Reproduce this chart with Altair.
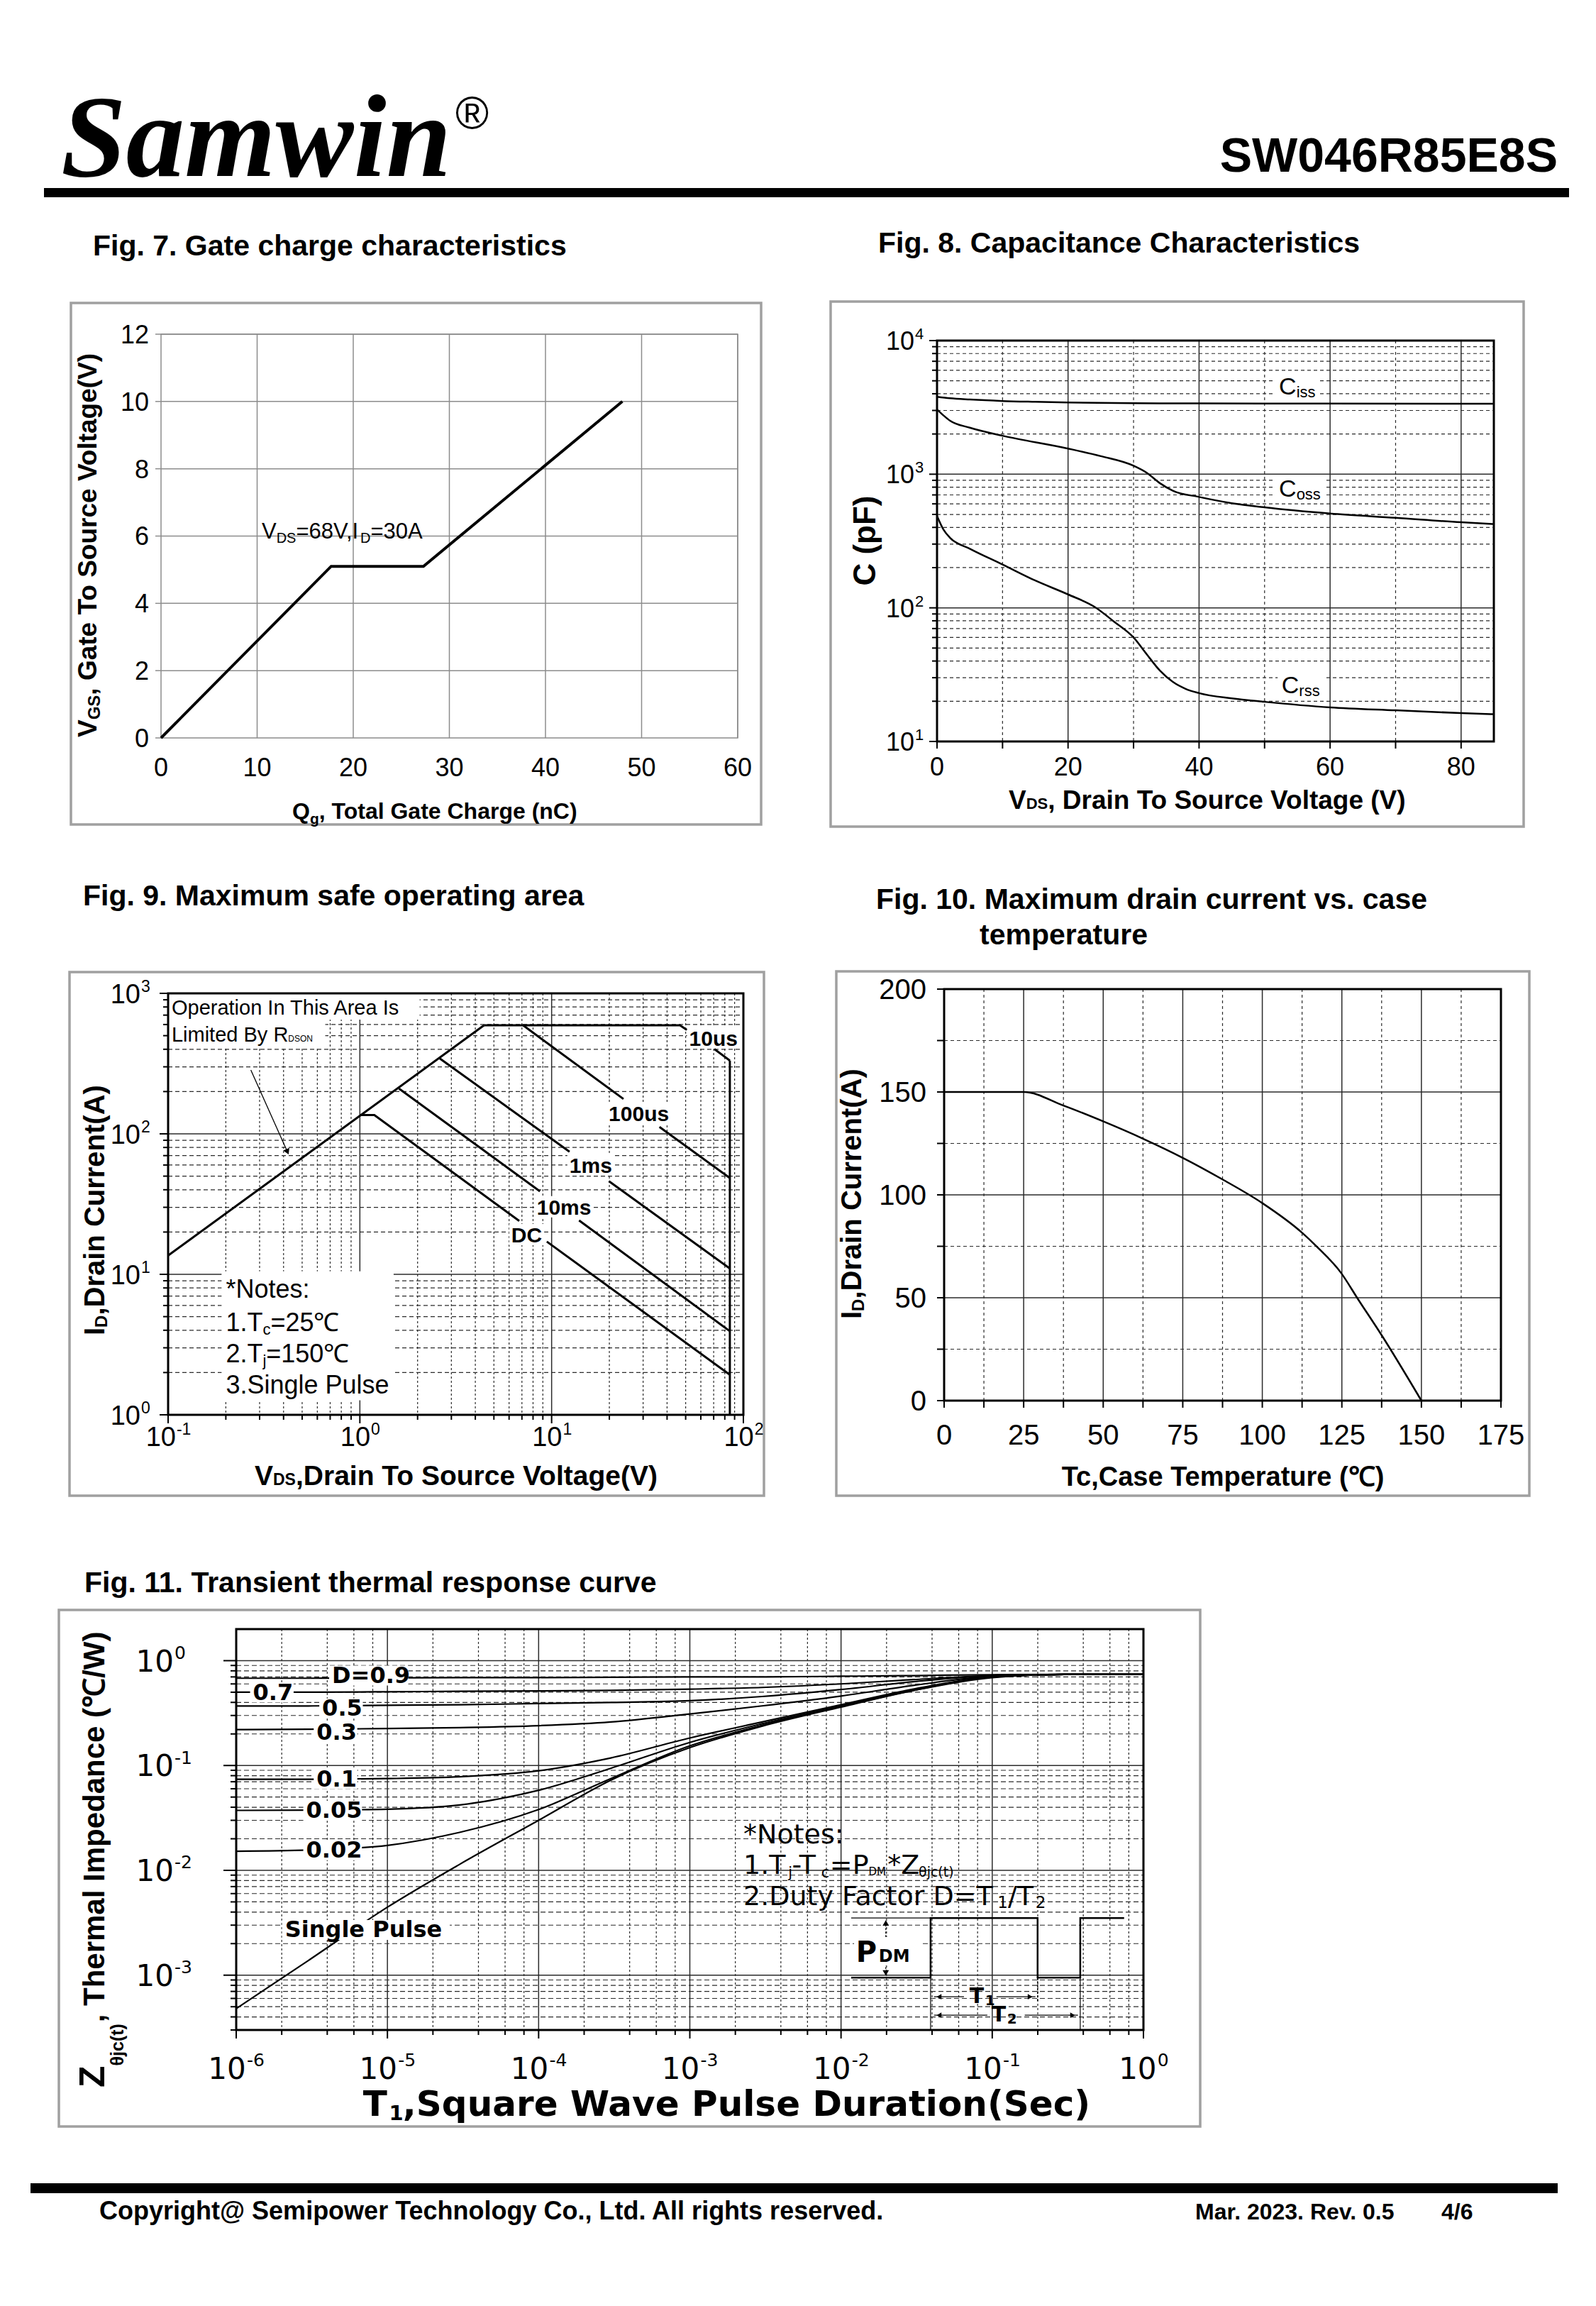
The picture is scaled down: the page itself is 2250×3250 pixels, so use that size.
import altair as alt
import pandas as pd

SANS = "Liberation Sans, Arial, Helvetica, sans-serif"
SERIF = "Liberation Serif, Times New Roman, serif"
WIDE = "DejaVu Sans, Verdana, sans-serif"
FRAME_C = "#a0a0a0"
GRID_C = "#2b2b2b"

# ===================== chart values =====================
# Fig. 7 gate charge
qg_nc = [0.0, 17.7, 27.3, 48.0]
vgs_v = [0.0, 5.1, 5.1, 10.0]
f7_x_ticks = [0, 10, 20, 30, 40, 50, 60]
f7_y_ticks = [0, 2, 4, 6, 8, 10, 12]

# Fig. 8 capacitance
ciss_vds = [0, 2, 5, 10, 15, 20, 30, 40, 60, 85]
ciss_pf = [3800, 3700, 3620, 3530, 3480, 3440, 3400, 3385, 3375, 3370]
coss_vds = [0, 1, 2, 5, 10, 20, 25, 30, 32, 34, 36, 40, 45, 50, 60, 70, 80, 85]
coss_pf = [3050, 2750, 2510, 2230, 1940, 1556, 1365, 1156, 1025, 858, 752, 676, 607, 565, 508, 472, 437, 424]
crss_vds = [0, 1, 2, 5, 10, 15, 20, 24, 27, 30, 32, 34, 36, 38, 40, 45, 50, 60, 70, 80, 85]
crss_pf = [487, 384, 334, 277, 211, 160, 126, 102, 79, 60, 45, 34, 27.9, 24.7, 23, 21, 19.8, 18, 17.1, 16.3, 16.0]
cap_names = ["iss", "oss", "rss"]
cap_label_vds = [52.2, 52.2, 52.6]
cap_label_pf = [3926, 676, 22.9]
f8_x_ticks = [0, 20, 40, 60, 80]
f8_y_ticks = [10, 100, 1000, 10000]
f8_y_exp = ["1", "2", "3", "4"]

# Fig. 9 safe operating area (segments are broken where the labels sit)
soa_seg = ["Rds", "Rds",
           "10us a", "10us a", "10us a", "10us b", "10us b",
           "100us a", "100us a", "100us b", "100us b",
           "1ms a", "1ms a", "1ms b", "1ms b",
           "10ms a", "10ms a", "10ms b", "10ms b",
           "DC a", "DC a", "DC a", "DC b", "DC b",
           "BVdss", "BVdss"]
soa_vds = [0.1, 4.44,
           4.44, 46.7, 50.7, 70.6, 85.0,
           7.1, 23.7, 36.5, 85.0,
           2.61, 12.4, 19.9, 85.0,
           1.60, 8.69, 13.9, 85.0,
           1.01, 1.19, 6.78, 9.44, 85.0,
           85.0, 85.0]
soa_id = [13.6, 592,
          592, 592, 549, 401, 332,
          592, 177, 112, 48.5,
          344, 74.5, 46, 11.0,
          210, 39, 24.2, 3.94,
          136, 136, 24, 17.1, 1.93,
          332, 1.0]
soa_labels = ["10us", "100us", "1ms", "10ms", "DC"]
soa_label_vds = [69.8, 28.5, 16.0, 11.6, 7.41]
soa_label_id = [425, 124, 52.9, 26.6, 16.9]
arrow_vds = [0.27, 0.419]
arrow_id = [285, 74.5]
f9_x_ticks = [0.1, 1, 10, 100]
f9_x_exp = ["-1", "0", "1", "2"]
f9_y_ticks = [1, 10, 100, 1000]
f9_y_exp = ["0", "1", "2", "3"]

# Fig. 10 drain current vs case temperature
tc_c = [0, 25, 37.5, 50, 62.5, 75, 87.5, 100, 112.5, 117.1, 124.7, 130, 137.5, 150]
id_a = [150, 150, 143.4, 135.7, 127.3, 118, 107.5, 96, 81.6, 74.9, 62.2, 49.5, 31.8, 0]
f10_x_ticks = [0, 25, 50, 75, 100, 125, 150, 175]
f10_y_ticks = [0, 50, 100, 150, 200]

# Fig. 11 transient thermal response
t1_s = [1e-6, 3e-6, 1e-5, 3e-5, 1e-4, 3e-4, 1e-3, 3e-3, 1e-2, 3e-2, 1e-1, 3e-1, 1.0]
z_d09 = [0.68, 0.68, 0.685, 0.69, 0.69, 0.695, 0.70, 0.70, 0.71, 0.72, 0.735, 0.74, 0.74]
z_d07 = [0.50, 0.50, 0.505, 0.51, 0.515, 0.52, 0.535, 0.555, 0.60, 0.66, 0.72, 0.74, 0.74]
z_d05 = [0.37, 0.37, 0.375, 0.38, 0.39, 0.40, 0.415, 0.455, 0.53, 0.63, 0.72, 0.74, 0.74]
z_d03 = [0.22, 0.222, 0.225, 0.23, 0.24, 0.26, 0.31, 0.37, 0.46, 0.58, 0.71, 0.74, 0.74]
z_d01 = [0.074, 0.074, 0.075, 0.078, 0.089, 0.118, 0.183, 0.26, 0.38, 0.535, 0.70, 0.74, 0.74]
z_d005 = [0.0373, 0.0375, 0.0383, 0.042, 0.058, 0.094, 0.166, 0.25, 0.37, 0.525, 0.70, 0.74, 0.74]
z_d002 = [0.0152, 0.0156, 0.0173, 0.023, 0.038, 0.075, 0.154, 0.242, 0.365, 0.52, 0.70, 0.74, 0.74]
z_single = [4.8e-4, 1.38e-3, 4.45e-3, 0.0114, 0.030, 0.0724, 0.148, 0.237, 0.361, 0.519, 0.69, 0.74, 0.74]
duty_names = ["D=0.9", "0.7", "0.5", "0.3", "0.1", "0.05", "0.02", "Single Pulse"]
duty_label_t = [4.3e-6, 1.29e-6, 3.7e-6, 3.4e-6, 3.4e-6, 2.9e-6, 2.9e-6, 2.1e-6]
duty_label_z = [0.72, 0.495, 0.35, 0.207, 0.074, 0.037, 0.0155, 2.7e-3]
pulse_t = [0.01167, 0.0391, 0.0391, 0.1995, 0.1995, 0.382, 0.382, 0.745]
pulse_z = [9.48e-4, 9.48e-4, 3.51e-3, 3.51e-3, 9.48e-4, 9.48e-4, 3.51e-3, 3.51e-3]
f11_x_ticks = [1e-6, 1e-5, 1e-4, 1e-3, 1e-2, 1e-1, 1]
f11_x_exp = ["-6", "-5", "-4", "-3", "-2", "-1", "0"]
f11_y_ticks = [1e-3, 1e-2, 1e-1, 1]
f11_y_exp = ["-3", "-2", "-1", "0"]

ONE = pd.DataFrame({"k": [0]})
G = 8  # page margin: page coordinate -> chart pixel
LAYERS = []

# approximate advance widths (em) for Arial-metric fonts, to place sub/superscript pieces
AR = {' ': .278, '(': .333, ')': .333, '*': .389, ',': .278, '-': .333, '.': .278, '/': .278, ':': .278,
      '=': .584, '@': 1.015, '℃': 1.0, 'θ': .556,
      'A': .667, 'B': .667, 'C': .722, 'D': .722, 'E': .667, 'F': .611, 'G': .778, 'H': .722, 'I': .278,
      'J': .5, 'K': .667, 'L': .556, 'M': .833, 'N': .722, 'O': .778, 'P': .667, 'Q': .778, 'R': .722,
      'S': .667, 'T': .611, 'U': .722, 'V': .667, 'W': .944, 'X': .667, 'Y': .667, 'Z': .611,
      'a': .556, 'b': .556, 'c': .5, 'd': .556, 'e': .556, 'f': .278, 'g': .556, 'h': .556, 'i': .222,
      'j': .222, 'k': .5, 'l': .222, 'm': .833, 'n': .556, 'o': .556, 'p': .556, 'q': .556, 'r': .333,
      's': .5, 't': .278, 'u': .556, 'v': .5, 'w': .722, 'x': .5, 'y': .5, 'z': .5}
AB = {' ': .278, '(': .333, ')': .333, '*': .389, ',': .278, '-': .333, '.': .278, '/': .278, ':': .333,
      '=': .584, '@': .975, '℃': 1.0, 'θ': .611,
      'A': .722, 'B': .722, 'C': .722, 'D': .722, 'E': .667, 'F': .611, 'G': .778, 'H': .722, 'I': .278,
      'J': .556, 'K': .722, 'L': .611, 'M': .833, 'N': .722, 'O': .778, 'P': .667, 'Q': .778, 'R': .722,
      'S': .667, 'T': .611, 'U': .722, 'V': .667, 'W': .944, 'X': .667, 'Y': .667, 'Z': .611,
      'a': .556, 'b': .611, 'c': .556, 'd': .611, 'e': .556, 'f': .333, 'g': .611, 'h': .611, 'i': .278,
      'j': .278, 'k': .556, 'l': .278, 'm': .889, 'n': .611, 'o': .611, 'p': .611, 'q': .611, 'r': .389,
      's': .556, 't': .333, 'u': .611, 'v': .556, 'w': .778, 'x': .556, 'y': .556, 'z': .5}


def tw(s, size, bold=False, wide=False):
    tab = AB if bold else AR
    w = sum(tab.get(c, 0.556) for c in s) * size
    if wide:
        w *= 1.2 if bold else 1.15
    return w


def pv(v):
    return alt.value(v - G)


def prect(x1, y1, x2, y2, fill=None, stroke=None, sw=3):
    if stroke is not None:
        mk = dict(filled=False, stroke=stroke, strokeWidth=sw)
    else:
        mk = dict(color=fill)
    LAYERS.append(alt.Chart(ONE).mark_rect(**mk).encode(x=pv(x1), x2=pv(x2), y=pv(y1), y2=pv(y2)))


def text(s, X, Y, size, bold=False, font=SANS, align="left", angle=0, style="normal"):
    mk = dict(text=s, font=font, fontSize=size, fontWeight="bold" if bold else "normal",
              fontStyle=style, align=align, baseline="alphabetic", color="black")
    if angle:
        mk["angle"] = angle
    LAYERS.append(alt.Chart(ONE).mark_text(**mk).encode(x=pv(X), y=pv(Y)))


def rich(parts, X, Y, font=SANS, bold=False, wide=False, center=False, rotate=False):
    total = sum(tw(t, s, bold, wide) for t, s, _ in parts)
    off = -total / 2 if center else 0.0
    for t, s, sh in parts:
        if rotate:
            text(t, X + sh, Y - off, s, bold, font, angle=270)
        else:
            text(t, X + off, Y + sh, s, bold, font)
        off += tw(t, s, bold, wide)


class Panel:
    def __init__(self, ox, oy, w, h, xdom, ydom, xtype="linear", ytype="linear"):
        self.ox, self.oy, self.w, self.h = ox, oy, w, h
        self.left, self.right = ox - G, ox - G + w
        self.top, self.bottom = oy - G, oy - G + h
        self.xs = alt.Scale(type=xtype, domain=xdom, range=[self.left, self.right], nice=False, zero=False)
        self.ys = alt.Scale(type=ytype, domain=ydom, range=[self.bottom, self.top], nice=False, zero=False)

    def X(self, f):
        return alt.X(f"{f}:Q", scale=self.xs, axis=None)

    def Y(self, f):
        return alt.Y(f"{f}:Q", scale=self.ys, axis=None)

    def frame(self, color="black", sw=3):
        LAYERS.append(alt.Chart(ONE).mark_rect(filled=False, stroke=color, strokeWidth=sw).encode(
            x=alt.value(self.left), x2=alt.value(self.right), y=alt.value(self.top), y2=alt.value(self.bottom)))

    def vgrid(self, vals, width=1.2, dash=None, color=GRID_C):
        mk = dict(color=color, strokeWidth=width)
        if dash:
            mk["strokeDash"] = dash
        LAYERS.append(alt.Chart(pd.DataFrame({"v": vals})).mark_rule(**mk).encode(
            x=self.X("v"), y=alt.value(self.top), y2=alt.value(self.bottom)))

    def hgrid(self, vals, width=1.2, dash=None, color=GRID_C):
        mk = dict(color=color, strokeWidth=width)
        if dash:
            mk["strokeDash"] = dash
        LAYERS.append(alt.Chart(pd.DataFrame({"v": vals})).mark_rule(**mk).encode(
            y=self.Y("v"), x=alt.value(self.left), x2=alt.value(self.right)))

    def xticks(self, vals, length, color="black", width=2):
        LAYERS.append(alt.Chart(pd.DataFrame({"v": vals})).mark_rule(color=color, strokeWidth=width).encode(
            x=self.X("v"), y=alt.value(self.bottom), y2=alt.value(self.bottom + length)))

    def yticks(self, vals, length, color="black", width=2):
        LAYERS.append(alt.Chart(pd.DataFrame({"v": vals})).mark_rule(color=color, strokeWidth=width).encode(
            y=self.Y("v"), x=alt.value(self.left), x2=alt.value(self.left - length)))

    def xlabels(self, vals, Y, size, font=SANS, exps=None, wide=False):
        for i, v in enumerate(vals):
            df = pd.DataFrame({"x": [v]})
            base = dict(font=font, color="black", baseline="alphabetic")
            if exps is None:
                LAYERS.append(alt.Chart(df).mark_text(text=f"{v:g}", fontSize=size, align="center", **base)
                              .encode(x=self.X("x"), y=pv(Y)))
            else:
                es = round(size * 0.6)
                w10 = tw("10", size, wide=wide)
                we = tw(exps[i], es, wide=wide)
                start = -(w10 + we) / 2
                LAYERS.append(alt.Chart(df).mark_text(text="10", fontSize=size, align="left", dx=start, **base)
                              .encode(x=self.X("x"), y=pv(Y)))
                LAYERS.append(alt.Chart(df).mark_text(text=exps[i], fontSize=es, align="left",
                                                      dx=start + w10 + 1, dy=-0.42 * size, **base)
                              .encode(x=self.X("x"), y=pv(Y)))

    def ylabels(self, vals, XR, size, font=SANS, exps=None):
        for i, v in enumerate(vals):
            df = pd.DataFrame({"y": [v]})
            base = dict(font=font, color="black", baseline="alphabetic")
            dy = 0.36 * size
            if exps is None:
                LAYERS.append(alt.Chart(df).mark_text(text=f"{v:g}", fontSize=size, align="right", dy=dy, **base)
                              .encode(y=self.Y("y"), x=pv(XR)))
            else:
                es = round(size * 0.6)
                LAYERS.append(alt.Chart(df).mark_text(text="10", fontSize=size, align="right", dy=dy, **base)
                              .encode(y=self.Y("y"), x=pv(XR)))
                LAYERS.append(alt.Chart(df).mark_text(text=exps[i], fontSize=es, align="left",
                                                      dx=1, dy=dy - 0.42 * size, **base)
                              .encode(y=self.Y("y"), x=pv(XR)))

    def line(self, xv, yv, width=3, interp="linear", color="black", dash=None, seg=None):
        df = pd.DataFrame({"x": xv, "y": yv, "o": list(range(len(xv)))})
        enc = dict(x=self.X("x"), y=self.Y("y"), order="o:Q")
        if seg is not None:
            df["s"] = seg
            enc["detail"] = "s:N"
        mk = dict(color=color, strokeWidth=width, interpolate=interp)
        if dash:
            mk["strokeDash"] = dash
        LAYERS.append(alt.Chart(df).mark_line(**mk).encode(**enc))

    def drect(self, x1, x2, y1, y2, color="white"):
        df = pd.DataFrame({"x1": [x1], "x2": [x2], "y1": [y1], "y2": [y2]})
        LAYERS.append(alt.Chart(df).mark_rect(color=color).encode(
            x=self.X("x1"), x2=alt.X2("x2"), y=self.Y("y1"), y2=alt.Y2("y2")))

    def dtext(self, s, x, y, size, bold=False, font=SANS, align="left", baseline="alphabetic", dx=0, dy=0):
        df = pd.DataFrame({"x": [x], "y": [y]})
        mk = dict(text=s, font=font, fontSize=size, fontWeight="bold" if bold else "normal",
                  align=align, baseline=baseline, color="black")
        if dx:
            mk["dx"] = dx
        if dy:
            mk["dy"] = dy
        LAYERS.append(alt.Chart(df).mark_text(**mk).encode(x=self.X("x"), y=self.Y("y")))

    def drich(self, parts, x, y, font=SANS, bold=False, wide=False, baseline="alphabetic"):
        off = 0.0
        for t, s, sh in parts:
            self.dtext(t, x, y, s, bold, font, "left", baseline, dx=off, dy=sh)
            off += tw(t, s, bold, wide)

    def head(self, x, y, shape, size=70, angle=0):
        mk = dict(shape=shape, filled=True, size=size, color="black", opacity=1)
        if angle:
            mk["angle"] = angle
        df = pd.DataFrame({"x": [x], "y": [y]})
        LAYERS.append(alt.Chart(df).mark_point(**mk).encode(x=self.X("x"), y=self.Y("y")))


def logs(decades, ks, lo, hi):
    return [k * 10.0 ** e for e in decades for k in ks if lo < k * 10.0 ** e < hi]


# ===================== header =====================
text("Samwin", 86, 248, 165, bold=True, font=SERIF, style="italic")
text("®", 642, 181, 64, font=SANS)
text("SW046R85E8S", 2196, 242, 68, bold=True, align="right")
prect(62, 265, 2212, 278, fill="black")

# ===================== Fig. 7 =====================
f7 = Panel(227, 471, 813, 569, [0, 60], [0, 12])
prect(100, 427, 1073, 1162, stroke=FRAME_C, sw=3.5)
text("Fig. 7. Gate charge characteristics", 131, 360, 41, bold=True)
f7.vgrid(f7_x_ticks[1:], width=1.5, color="#8c8c8c")
f7.hgrid(f7_y_ticks[1:], width=1.5, color="#8c8c8c")
f7.frame(color="#8c8c8c", sw=1.5)
f7.yticks(f7_y_ticks, 8, color="#8c8c8c", width=1.5)
f7.xlabels(f7_x_ticks, 1094, 36)
f7.ylabels(f7_y_ticks, 210, 36)
f7.line(qg_nc, vgs_v, width=4)
f7.drich([("V", 31, 0), ("DS", 20, 6), ("=68V,I", 31, 0), ("D", 20, 6), ("=30A", 31, 0)], 10.48, 5.93)
rich([("V", 37, 0), ("GS", 24, 5), (",  Gate To  Source Voltage(V)", 37, 0)], 136, 1039,
     bold=True, rotate=True)
rich([("Q", 32, 0), ("g", 21, 7), (", Total Gate Charge (nC)", 32, 0)], 412, 1154, bold=True)

# ===================== Fig. 8 =====================
f8 = Panel(1321, 480, 785, 565, [0, 85], [10, 10000], "linear", "log")
prect(1171, 425, 2148, 1165, stroke=FRAME_C, sw=3.5)
text("Fig. 8. Capacitance Characteristics", 1238, 356, 41, bold=True)
f8.vgrid([10, 30, 50, 70], width=1.2, dash=[4, 4])
f8.vgrid([20, 40, 60, 80], width=1.5)
f8.hgrid(logs([1, 2, 3], range(2, 10), 10, 10000), width=1.2, dash=[5, 4])
f8.hgrid([100, 1000], width=1.5)
f8.frame()
f8.xticks([0, 10, 20, 30, 40, 50, 60, 70, 80], 10)
f8.yticks(f8_y_ticks, 11)
f8.yticks(logs([1, 2, 3], range(2, 10), 10, 10000), 7)
f8.xlabels(f8_x_ticks, 1093, 36)
f8.ylabels(f8_y_ticks, 1289, 36, exps=f8_y_exp)
for name, lx, ly in zip(cap_names, cap_label_vds, cap_label_pf):
    w = tw("C", 34) + tw(name, 22)
    f8.drect(lx - 0.6, lx + w / 9.235 + 0.6, ly / 10 ** (6 / 188.3), ly * 10 ** (30 / 188.3))
f8.line(ciss_vds, ciss_pf, width=2.5, interp="monotone")
f8.line(coss_vds, coss_pf, width=2.5, interp="monotone")
f8.line(crss_vds, crss_pf, width=2.5, interp="monotone")
for name, lx, ly in zip(cap_names, cap_label_vds, cap_label_pf):
    f8.drich([("C", 34, 0), (name, 22, 4)], lx, ly)
text("C (pF)", 1234, 762, 44, bold=True, align="center", angle=270)
rich([("V", 37, 0), ("DS", 22, 0), (", Drain To Source Voltage (V)", 37, 0)], 1422, 1140, bold=True)

# ===================== Fig. 9 =====================
f9 = Panel(237, 1400, 811, 594, [0.1, 100], [1, 1000], "log", "log")
prect(98, 1370, 1077, 2108, stroke=FRAME_C, sw=3.5)
text("Fig. 9. Maximum safe operating area", 117, 1276, 41, bold=True)
f9.vgrid(logs([-1, 0, 1], range(2, 10), 0.1, 100), width=1.2, dash=[3, 3])
f9.vgrid([1, 10], width=1.5)
f9.hgrid(logs([0, 1, 2], range(2, 10), 1, 1000), width=1.2, dash=[6, 4])
f9.hgrid([10, 100], width=1.5)
f9.xticks(f9_x_ticks, 12)
f9.xticks(logs([-1, 0, 1], range(2, 10), 0.1, 100), 7)
f9.yticks(f9_y_ticks, 12)
f9.yticks(logs([0, 1, 2], range(2, 10), 1, 1000), 7)
f9.xlabels(f9_x_ticks, 2038, 38, exps=f9_x_exp)
f9.ylabels(f9_y_ticks, 198, 38, exps=f9_y_exp)
# white boxes behind the annotations
f9.drect(0.1, 2.05, 650, 1000)
f9.drect(0.1, 0.66, 418, 650)
f9.drect(0.19, 1.5, 1.27, 10.5)
for name, lx, ly in zip(soa_labels, soa_label_vds, soa_label_id):
    half = tw(name, 30, True) / 2 + 3
    f9.drect(lx / 10 ** (half / 270.3), lx * 10 ** (half / 270.3), ly / 10 ** (4 / 198), ly * 10 ** (26 / 198))
f9.frame()
f9.line(soa_vds, soa_id, width=3, seg=soa_seg)
f9.line(arrow_vds, arrow_id, width=1.3)
f9.head(arrow_vds[1], arrow_id[1], "triangle-up", size=90, angle=156)
for name, lx, ly in zip(soa_labels, soa_label_vds, soa_label_id):
    f9.dtext(name, lx, ly, 30, bold=True, align="center")
f9.dtext("Operation In This Area Is", 0.1043, 706, 29)
f9.drich([("Limited By R", 29, 0), ("DSON", 12, 0)], 0.1043, 455)
f9.dtext("*Notes:", 0.2, 6.78, 36)
f9.drich([("1.T", 36, 0), ("c", 22, 5), ("=25℃", 36, 0)], 0.2, 3.93)
f9.drich([("2.T", 36, 0), ("j", 22, 5), ("=150℃", 36, 0)], 0.2, 2.36)
f9.dtext("3.Single Pulse", 0.2, 1.42, 36)
rich([("I", 40, 0), ("D", 24, 4), (",Drain Current(A)", 40, 0)], 147, 1882, bold=True, rotate=True)
rich([("V", 39, 0), ("DS", 23, 0), (",Drain To Source Voltage(V)", 39, 0)], 359, 2093, bold=True)

# ===================== Fig. 10 =====================
f10 = Panel(1331, 1394, 785, 580, [0, 175], [0, 200])
prect(1179, 1369, 2156, 2108, stroke=FRAME_C, sw=3.5)
text("Fig. 10. Maximum drain current vs. case", 1235, 1281, 41, bold=True)
text("temperature", 1381, 1331, 41, bold=True)
f10.vgrid([12.5, 37.5, 62.5, 87.5, 112.5, 137.5, 162.5], width=1.2, dash=[4, 4])
f10.vgrid([25, 50, 75, 100, 125, 150], width=1.5)
f10.hgrid([25, 75, 125, 175], width=1.2, dash=[5, 4])
f10.hgrid([50, 100, 150], width=1.5)
f10.frame()
f10.xticks([0, 12.5, 25, 37.5, 50, 62.5, 75, 87.5, 100, 112.5, 125, 137.5, 150, 162.5, 175], 10)
f10.yticks([0, 25, 50, 75, 100, 125, 150, 175, 200], 10)
f10.xlabels(f10_x_ticks, 2036, 40)
f10.ylabels(f10_y_ticks, 1306, 40)
f10.line(tc_c, id_a, width=2.5, interp="monotone")
rich([("I", 40, 0), ("D", 24, 4), (",Drain Current(A)", 40, 0)], 1214, 1859, bold=True, rotate=True)
text("Tc,Case Temperature (℃)", 1724, 2094, 38, bold=True, align="center")

# ===================== Fig. 11 =====================
f11 = Panel(333, 2296, 1279, 565, [1e-6, 1], [3e-4, 2], "log", "log")
prect(83, 2269, 1692, 2997, stroke=FRAME_C, sw=3.5)
text("Fig. 11. Transient thermal response curve", 119, 2244, 41, bold=True)
f11.vgrid(logs(range(-6, 0), [2, 4, 6, 8], 1e-6, 1), width=1.2, dash=[3, 3])
f11.vgrid([1e-5, 1e-4, 1e-3, 1e-2, 1e-1], width=1.5)
f11.hgrid(logs([-4, -3, -2, -1], range(2, 10), 3e-4, 2), width=1.2, dash=[7, 4])
f11.hgrid([1e-3, 1e-2, 1e-1, 1], width=1.5)
f11.frame()
f11.xticks(f11_x_ticks, 12)
f11.xticks(logs(range(-6, 0), [2, 4, 6, 8], 1e-6, 1), 7)
f11.yticks(f11_y_ticks, 18)
f11.yticks(logs([-4, -3, -2, -1], range(2, 10), 3e-4, 2), 8)
f11.xlabels(f11_x_ticks, 2930, 42, font=WIDE, exps=f11_x_exp, wide=True)
f11.ylabels(f11_y_ticks, 245, 42, font=WIDE, exps=f11_y_exp)
for zs in [z_d09, z_d07, z_d05, z_d03, z_d01, z_d005, z_d002, z_single]:
    f11.line(t1_s, zs, width=2.2, interp="monotone")
# pulse diagram
f11.line(pulse_t, pulse_z, width=2.5)
f11.line([0.01167, 0.0391], [3.51e-3, 3.51e-3], width=1.2)
f11.line([0.0391, 0.0391], [9.48e-4, 3e-4], width=1.2)
f11.line([0.382, 0.382], [9.48e-4, 3e-4], width=1.2)
f11.line([0.1995, 0.1995], [9.48e-4, 5.6e-4], width=1.5, dash=[3, 2])
f11.line([0.01977, 0.01977], [3.3e-3, 1.0e-3], width=1.2, dash=[3, 2])
f11.head(0.01977, 3.15e-3, "triangle-up", size=80)
f11.head(0.01977, 1.05e-3, "triangle-down", size=80)
f11.drect(0.0122, 0.0345, 1.24e-3, 2.31e-3)
f11.drich([("P", 40, 0), ("DM", 24, 0)], 0.01256, 1.34e-3, font=WIDE, bold=True, wide=True)
# T1 / T2 arrows
f11.line([0.0412, 0.065], [6.22e-4, 6.22e-4], width=1.2)
f11.line([0.1066, 0.193], [6.22e-4, 6.22e-4], width=1.2)
f11.head(0.0445, 6.22e-4, "triangle-left", size=60)
f11.head(0.178, 6.22e-4, "triangle-right", size=60)
f11.drich([("T", 30, 0), ("1", 20, 6)], 0.0708, 6.22e-4, font=WIDE, bold=True, wide=True, baseline="middle")
f11.line([0.0412, 0.0928], [4.15e-4, 4.15e-4], width=1.2)
f11.line([0.164, 0.369], [4.15e-4, 4.15e-4], width=1.2)
f11.head(0.0445, 4.15e-4, "triangle-left", size=60)
f11.head(0.34, 4.15e-4, "triangle-right", size=60)
f11.drich([("T", 30, 0), ("2", 20, 6)], 0.0989, 4.15e-4, font=WIDE, bold=True, wide=True, baseline="middle")
# curve labels with white backing
for name, lx, lz in zip(duty_names, duty_label_t, duty_label_z):
    w = tw(name, 32, True, True)
    f11.drect(lx / 10 ** (4 / 213.2), lx * 10 ** ((w + 4) / 213.2), lz / 10 ** (14 / 147.7), lz * 10 ** (14 / 147.7))
    f11.dtext(name, lx, lz, 32, bold=True, font=WIDE, baseline="middle")
# notes
f11.dtext("*Notes:", 2.26e-3, 0.018, 38, font=WIDE)
f11.drich([("1.T", 38, 0), ("j", 21, 5), ("-T", 38, 0), ("c", 21, 5), ("=P", 38, 0), ("DM", 15, 2),
           ("*Z", 38, 0), ("θjc(t)", 19, 4)], 2.26e-3, 9.2e-3, font=WIDE, wide=True)
f11.drich([("2.Duty Factor D=T", 38, 0), ("1", 23, 4), ("/T", 38, 0), ("2", 23, 4)], 2.26e-3, 4.65e-3,
          font=WIDE, wide=True)
rich([("Z", 50, 0), ("θjc(t)", 25, 27), (",  Thermal  Impedance (℃/W)", 42, 0)], 147, 2942,
     bold=True, rotate=True)
rich([("T", 50, 0), ("1", 29, 6), (",Square Wave Pulse Duration(Sec)", 50, 0)], 1030, 2982,
     font=WIDE, bold=True, wide=True, center=True)

# ===================== footer =====================
prect(43, 3077, 2196, 3091, fill="black")
text("Copyright@ Semipower Technology Co., Ltd. All rights reserved.", 140, 3128, 36, bold=True)
text("Mar. 2023. Rev. 0.5", 1685, 3128, 32, bold=True)
text("4/6", 2032, 3128, 32, bold=True)

chart = alt.layer(*LAYERS).resolve_scale(x="independent", y="independent").properties(
    width=2234, height=3230, padding=0, background="white"
).configure_view(stroke="transparent")

chart.save("out.html", embed_options={"renderer": "svg", "actions": False})
